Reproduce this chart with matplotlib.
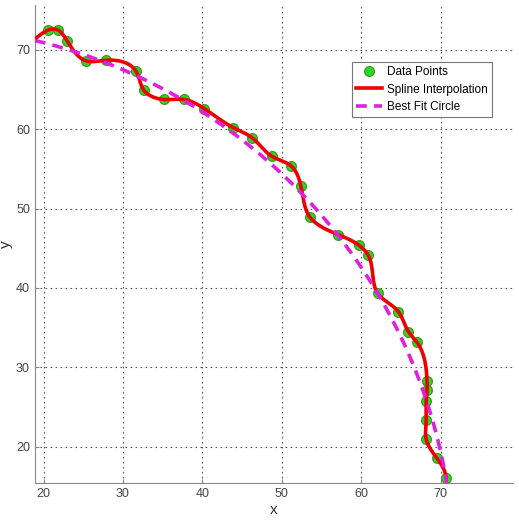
import numpy as np
import matplotlib
matplotlib.use('Agg')
import matplotlib.pyplot as plt

# data points
x_pts = [20.6, 21.8, 23.0, 25.4, 27.9, 31.6, 32.65, 35.2, 37.7, 40.25,
         43.9, 46.3, 48.75, 51.15, 52.4, 53.5, 57.15, 59.7, 60.9, 62.1,
         64.7, 65.95, 67.0, 68.3, 68.3, 68.2, 68.2, 68.2, 69.5, 70.7]
y_pts = [72.5, 72.5, 71.1, 68.6, 68.7, 67.4, 64.9, 63.75, 63.75, 62.6,
         60.2, 58.9, 56.6, 55.4, 52.9, 49.0, 46.7, 45.4, 44.1, 39.3,
         37.0, 34.5, 33.2, 28.3, 27.1, 25.8, 23.4, 20.9, 18.6, 16.1]

# best fit circle, centre and radius
circ_x, circ_y, circ_r = 2.8, 4.2, 68.9

x_ticks = [20, 30, 40, 50, 60, 70]
y_ticks = [20, 30, 40, 50, 60, 70]


def spline(t, v, tt):
    # not-a-knot cubic spline of v(t) evaluated at tt
    n = len(t)
    h = np.diff(t)
    A = np.zeros((n, n))
    r = np.zeros(n)
    A[0, :3] = [h[1], -(h[0] + h[1]), h[0]]
    A[-1, -3:] = [h[-1], -(h[-2] + h[-1]), h[-2]]
    for i in range(1, n - 1):
        A[i, i - 1] = h[i - 1]
        A[i, i] = 2 * (h[i - 1] + h[i])
        A[i, i + 1] = h[i]
        r[i] = 6 * ((v[i + 1] - v[i]) / h[i] - (v[i] - v[i - 1]) / h[i - 1])
    M = np.linalg.solve(A, r)
    k = np.clip(np.searchsorted(t, tt) - 1, 0, n - 2)
    t0, t1 = t[k], t[k + 1]
    hk = t1 - t0
    a = (t1 - tt) / hk
    b = (tt - t0) / hk
    return (a * v[k] + b * v[k + 1]
            + ((a ** 3 - a) * M[k] + (b ** 3 - b) * M[k + 1]) * hk ** 2 / 6)


x = np.array(x_pts)
y = np.array(y_pts)
d = np.hypot(np.diff(x), np.diff(y))
t = np.concatenate([[0], np.cumsum(d)])
tt = np.linspace(-2.5, t[-1], 800)
xs = spline(t, x, tt)
ys = spline(t, y, tt)

th = np.linspace(0, 2 * np.pi, 2000)

plt.rcParams['font.family'] = ['Liberation Sans', 'DejaVu Sans']
fig = plt.figure(figsize=(5.19, 5.20), dpi=100)
ax = fig.add_axes([0.067, 0.071, 0.921, 0.92])

ax.plot(x, y, 'o', color='#22dd22', mec='#4a9a2a', ms=7, mew=1,
        label='Data Points', zorder=3)
ax.plot(xs, ys, '-', color='#ee0000', lw=2.6, label='Spline Interpolation',
        zorder=4)
ax.plot(circ_x + circ_r * np.cos(th), circ_y + circ_r * np.sin(th), '--',
        color='#e020e0', lw=2.6, dashes=(3, 2), label='Best Fit Circle',
        zorder=5)

ax.set_xlim(18.9, 79.1)
ax.set_ylim(15.4, 75.7)
ax.set_xticks(x_ticks)
ax.set_yticks(y_ticks)
ax.grid(True, ls=(0, (1.5, 3)), color='#555555', lw=0.8)
for s in ['top', 'right']:
    ax.spines[s].set_visible(False)
for s in ['left', 'bottom']:
    ax.spines[s].set_color('#888888')
ax.tick_params(direction='in', length=3, colors='#888888', labelcolor='#444444',
               labelsize=9)
ax.set_xlabel('x', fontsize=11, color='#333333', labelpad=2)
ax.set_ylabel('y', fontsize=11, color='#333333', labelpad=2)

leg = ax.legend(loc='upper right', bbox_to_anchor=(0.957, 0.88), fontsize=8.5,
                fancybox=False, framealpha=1, edgecolor='#777777',
                borderpad=0.35, handlelength=2.2, handletextpad=0.45,
                labelspacing=0.45, borderaxespad=0)
leg.get_frame().set_linewidth(0.8)

fig.savefig('out.png', dpi=100)
